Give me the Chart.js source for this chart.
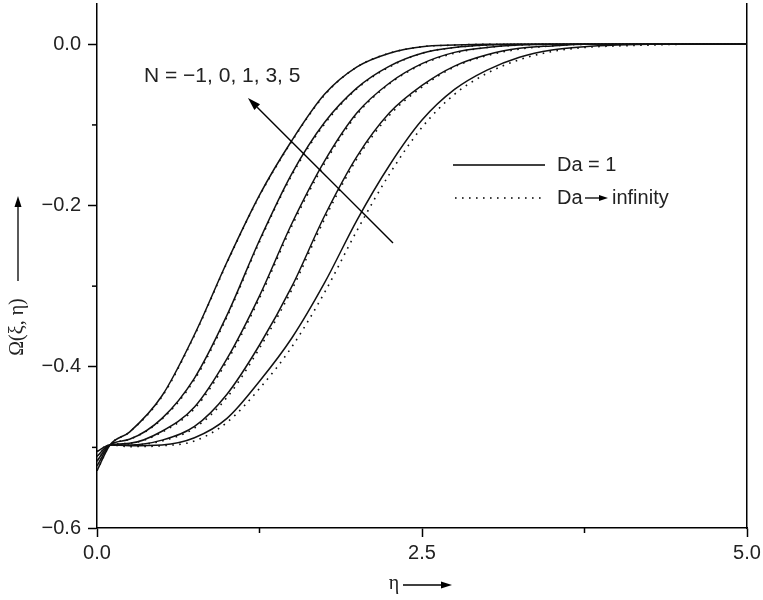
<!DOCTYPE html>
<html><head><meta charset="utf-8">
<script src="https://cdn.jsdelivr.net/npm/chart.js@4.4.1/dist/chart.umd.min.js"></script>
<style>html,body{margin:0;padding:0;background:#fff}#wrap{width:763px;height:600px;position:relative}</style>
</head><body><div id="wrap"><canvas id="c" width="763" height="600"></canvas></div>
<script>
// ---------- data ----------
const eta = [0, 0.1, 0.25, 0.5, 0.75, 1.0, 1.25, 1.5, 1.75, 2.0, 2.25, 2.5, 2.75, 3.0, 3.25, 3.5, 3.75, 4.0, 4.25, 4.5, 5.0];
const nValues = [-1, 0, 1, 3, 5];
// Da = 1 (solid)
const da1_Nm1 = [-0.505, -0.497, -0.498, -0.497, -0.488, -0.464, -0.418, -0.364, -0.296, -0.218, -0.150, -0.094, -0.056, -0.032, -0.016, -0.007, -0.003, -0.001, 0, 0, 0];
const da1_N0  = [-0.511, -0.497, -0.497, -0.491, -0.474, -0.434, -0.373, -0.300, -0.213, -0.139, -0.085, -0.051, -0.027, -0.013, -0.005, -0.002, 0, 0, 0, 0, 0];
const da1_N1  = [-0.517, -0.497, -0.495, -0.480, -0.450, -0.390, -0.312, -0.222, -0.145, -0.085, -0.048, -0.024, -0.010, -0.004, -0.001, 0, 0, 0, 0, 0, 0];
const da1_N3  = [-0.523, -0.497, -0.490, -0.464, -0.414, -0.336, -0.243, -0.160, -0.097, -0.054, -0.027, -0.011, -0.004, -0.001, 0, 0, 0, 0, 0, 0, 0];
const da1_N5  = [-0.529, -0.497, -0.481, -0.436, -0.360, -0.270, -0.187, -0.119, -0.062, -0.028, -0.011, -0.003, -0.001, 0, 0, 0, 0, 0, 0, 0, 0];
// Da -> infinity (dotted)
const daInf_Nm1 = [-0.505, -0.497, -0.499, -0.498, -0.492, -0.469, -0.427, -0.375, -0.308, -0.231, -0.161, -0.103, -0.062, -0.036, -0.019, -0.009, -0.004, -0.002, -0.001, 0, 0];
const daInf_N0  = [-0.511, -0.497, -0.497, -0.492, -0.476, -0.438, -0.377, -0.304, -0.217, -0.142, -0.088, -0.053, -0.028, -0.014, -0.006, -0.002, 0, 0, 0, 0, 0];
const daInf_N1  = [-0.517, -0.497, -0.495, -0.481, -0.452, -0.393, -0.315, -0.225, -0.148, -0.087, -0.049, -0.025, -0.011, -0.004, -0.001, 0, 0, 0, 0, 0, 0];
const daInf_N3  = [-0.523, -0.497, -0.490, -0.465, -0.416, -0.338, -0.245, -0.162, -0.099, -0.055, -0.028, -0.011, -0.004, -0.001, 0, 0, 0, 0, 0, 0, 0];
const daInf_N5  = [-0.529, -0.497, -0.481, -0.437, -0.361, -0.271, -0.188, -0.120, -0.063, -0.028, -0.011, -0.003, -0.001, 0, 0, 0, 0, 0, 0, 0, 0];
// ticks
const xTickValues = [0, 1.25, 2.5, 3.75, 5];
const xMajorTicks = [0, 2.5, 5];
const yTickValues = [-0.6, -0.5, -0.4, -0.3, -0.2, -0.1, 0];
const yMajorTicks = [-0.6, -0.4, -0.2, 0];
// texts
const xTitle = 'η';
const yTitle = 'Ω(ξ, η)';
const legendSolid = 'Da = 1';
const legendDottedA = 'Da';
const legendDottedB = 'infinity';
const annotationText = 'N = −1, 0, 1, 3, 5';

// ---------- build ----------
const solidSeries = [da1_Nm1, da1_N0, da1_N1, da1_N3, da1_N5];
const dottedSeries = [daInf_Nm1, daInf_N0, daInf_N1, daInf_N3, daInf_N5];
const toXY = arr => arr.map((v, i) => ({x: eta[i], y: v}));
const datasets = [];
dottedSeries.forEach((s, i) => datasets.push({
  label: 'Da → infinity, N = ' + nValues[i], data: toXY(s),
  borderColor: '#111', borderWidth: 1.6, borderDash: [1.6, 5.4],
  pointRadius: 0, cubicInterpolationMode: 'monotone', fill: false
}));
solidSeries.forEach((s, i) => datasets.push({
  label: 'Da = 1, N = ' + nValues[i], data: toXY(s),
  borderColor: '#111', borderWidth: 1.5,
  pointRadius: 0, cubicInterpolationMode: 'monotone', fill: false
}));

const FONT = '"Liberation Sans", Arial, sans-serif';
const SERIF = '"Liberation Serif", "Times New Roman", serif';
const fmt = v => (Math.abs(v) < 1e-9 ? '0.0' : (v < 0 ? '−' : '') + Math.abs(v).toFixed(1));
const isIn = (arr, v) => arr.some(a => Math.abs(a - v) < 1e-9);

function arrow(ctx, x1, y1, x2, y2, headLen, headW) {
  const ang = Math.atan2(y2 - y1, x2 - x1);
  const bx = x2 - headLen * Math.cos(ang), by = y2 - headLen * Math.sin(ang);
  ctx.beginPath(); ctx.moveTo(x1, y1); ctx.lineTo(bx, by); ctx.stroke();
  ctx.beginPath();
  ctx.moveTo(x2, y2);
  ctx.lineTo(bx + headW / 2 * Math.sin(ang), by - headW / 2 * Math.cos(ang));
  ctx.lineTo(bx - headW / 2 * Math.sin(ang), by + headW / 2 * Math.cos(ang));
  ctx.closePath(); ctx.fill();
}

const decor = {
  id: 'decor',
  afterDraw(chart) {
    const ctx = chart.ctx, a = chart.chartArea;
    const xs = chart.scales.x, ys = chart.scales.y;
    ctx.save();
    ctx.strokeStyle = '#000'; ctx.fillStyle = '#000'; ctx.lineWidth = 1.5;
    // minor ticks
    yTickValues.filter(v => !isIn(yMajorTicks, v)).forEach(v => {
      const p = ys.getPixelForValue(v);
      ctx.beginPath(); ctx.moveTo(a.left - 5, p); ctx.lineTo(a.left, p); ctx.stroke();
    });
    xTickValues.filter(v => !isIn(xMajorTicks, v)).forEach(v => {
      const p = xs.getPixelForValue(v);
      ctx.beginPath(); ctx.moveTo(p, a.bottom); ctx.lineTo(p, a.bottom + 5); ctx.stroke();
    });
    // x title
    ctx.font = '20px ' + SERIF; ctx.textAlign = 'center'; ctx.textBaseline = 'middle';
    ctx.fillStyle = '#222';
    ctx.fillText(xTitle, 394, 584);
    ctx.lineWidth = 1.3; ctx.fillStyle = '#000';
    arrow(ctx, 403, 585, 452, 585, 11, 7);
    // y title
    ctx.save();
    ctx.translate(18, 327); ctx.rotate(-Math.PI / 2);
    ctx.font = '20px ' + SERIF; ctx.fillStyle = '#222';
    ctx.fillText(yTitle, 0, 0);
    ctx.restore();
    arrow(ctx, 18, 281, 18, 196, 11, 7);
    // annotation
    ctx.font = '21px ' + FONT; ctx.textAlign = 'left'; ctx.fillStyle = '#222';
    ctx.fillText(annotationText, 144, 76);
    ctx.fillStyle = '#000'; ctx.lineWidth = 1.4;
    arrow(ctx, 393, 243, 248, 98, 13, 8);
    // legend
    ctx.font = '20px ' + FONT;
    ctx.lineWidth = 1.6; ctx.setLineDash([]);
    ctx.beginPath(); ctx.moveTo(453, 165); ctx.lineTo(545, 165); ctx.stroke();
    ctx.setLineDash([1.6, 5.4]);
    ctx.beginPath(); ctx.moveTo(455, 198); ctx.lineTo(545, 198); ctx.stroke();
    ctx.setLineDash([]);
    ctx.fillStyle = '#222';
    ctx.fillText(legendSolid, 557, 165);
    ctx.fillText(legendDottedA, 557, 198);
    ctx.fillText(legendDottedB, 612, 198);
    ctx.fillStyle = '#000'; ctx.lineWidth = 1.3;
    arrow(ctx, 585, 198, 608, 198, 9, 6);
    ctx.restore();
  }
};

new Chart(document.getElementById('c'), {
  type: 'line',
  data: {datasets},
  options: {
    responsive: false, animation: false, devicePixelRatio: 1,
    layout: {padding: {top: 4, right: 16, left: 0, bottom: 0}},
    plugins: {legend: {display: false}, tooltip: {enabled: false}},
    scales: {
      x: {
        type: 'linear', position: 'bottom', min: 0, max: 5,
        afterBuildTicks: s => { s.ticks = xTickValues.map(v => ({value: v})); },
        afterFit: s => { s.height = 72; s.paddingLeft = 0; s.paddingRight = 0; },
        ticks: {
          autoSkip: false, maxRotation: 0, padding: 4, color: '#222',
          font: {family: FONT, size: 20},
          callback: v => isIn(xMajorTicks, v) ? fmt(v) : ''
        },
        grid: {
          drawOnChartArea: false, drawTicks: true, tickLength: 9, tickWidth: 1.5,
          tickColor: c => (c.tick && isIn(xMajorTicks, c.tick.value)) ? '#000' : 'rgba(0,0,0,0)'
        },
        border: {display: true, color: '#000', width: 1.5}
      },
      y: {
        type: 'linear', position: 'left', min: -0.6, max: 0.05,
        afterBuildTicks: s => { s.ticks = yTickValues.map(v => ({value: v})); },
        afterFit: s => { s.width = 97; s.paddingTop = 0; s.paddingBottom = 0; },
        ticks: {
          autoSkip: false, padding: 7, color: '#222',
          font: {family: FONT, size: 20},
          callback: v => isIn(yMajorTicks, v) ? fmt(v) : ''
        },
        grid: {
          drawOnChartArea: false, drawTicks: true, tickLength: 9, tickWidth: 1.5,
          tickColor: c => (c.tick && isIn(yMajorTicks, c.tick.value)) ? '#000' : 'rgba(0,0,0,0)'
        },
        border: {display: true, color: '#000', width: 1.5}
      },
      y2: {
        type: 'linear', position: 'right', min: -0.6, max: 0.05,
        afterFit: s => { s.width = 0; s.paddingTop = 0; s.paddingBottom = 0; },
        ticks: {display: false},
        grid: {drawOnChartArea: false, drawTicks: false},
        border: {display: true, color: '#000', width: 1.5}
      }
    }
  },
  plugins: [decor]
});
</script></body></html>
